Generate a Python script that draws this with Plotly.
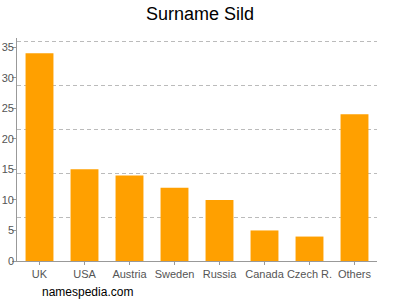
import plotly.graph_objects as go

categories = ["UK", "USA", "Austria", "Sweden", "Russia", "Canada", "Czech R.", "Others"]
values = [34, 15, 14, 12, 10, 5, 4, 24]
y_ticks = [0, 5, 10, 15, 20, 25, 30, 35]
y_max = 36
grid_vals = [y_max * i / 5 for i in range(1, 6)]
y_range = [0, y_max + 0.5]

W, H = 400, 300
ML, MR = 0, 23
plot_w = W - ML - MR
axis_px = 17          # x position of the y axis line
label_px = 14         # x position of the label-carrying axis
x_dom = [axis_px / plot_w, 1]

fig = go.Figure()
fig.add_trace(go.Bar(
    x=categories, y=values,
    marker=dict(color="#ffa000", line=dict(width=0)),
    hoverinfo="skip",
))
fig.add_trace(go.Scatter(x=categories, y=[None]*len(categories), yaxis="y2", showlegend=False, hoverinfo="skip"))
fig.add_trace(go.Scatter(x=categories, y=[None]*len(categories), yaxis="y3", showlegend=False, hoverinfo="skip"))

font_family = "Liberation Sans, Arial, sans-serif"
fig.update_layout(
    width=W, height=H,
    margin=dict(l=ML, r=MR, t=38, b=39, autoexpand=False),
    paper_bgcolor="white", plot_bgcolor="white",
    showlegend=False,
    bargap=0.38,
    title=dict(text="Surname Sild", x=0.5, xanchor="center", y=0.953, yanchor="middle",
               font=dict(family=font_family, size=18, color="#000")),
    xaxis=dict(
        domain=x_dom,
        showline=True, linecolor="#999", linewidth=1,
        ticks="outside", ticklen=3, tickcolor="#999", tickangle=0,
        tickfont=dict(family=font_family, size=11, color="#555"),
        showgrid=False, automargin=False,
    ),
    yaxis=dict(
        range=y_range, tickvals=y_ticks, showticklabels=False,
        showline=True, linecolor="#999", linewidth=1,
        ticks="outside", ticklen=4, tickcolor="#999",
        showgrid=False, zeroline=False, automargin=False,
    ),
    yaxis2=dict(
        range=y_range, overlaying="y", side="left", anchor="x",
        tickvals=grid_vals, showticklabels=False,
        showgrid=True, gridcolor="#bbb", gridwidth=1, griddash="4px,3px",
        showline=False, zeroline=False, ticks="", automargin=False,
    ),
    yaxis3=dict(
        range=y_range, overlaying="y", side="left", anchor="free",
        position=label_px / plot_w,
        tickvals=y_ticks, ticktext=[str(v) for v in y_ticks],
        tickfont=dict(family=font_family, size=11, color="#555"),
        showgrid=False, showline=False, zeroline=False, ticks="", automargin=False,
    ),
    annotations=[dict(text="namespedia.com", xref="paper", yref="paper",
                      x=40 / plot_w, y=-0.14, xanchor="left", yanchor="middle", showarrow=False,
                      font=dict(family=font_family, size=12, color="#000"))],
)
fig.write_html("out.html")
